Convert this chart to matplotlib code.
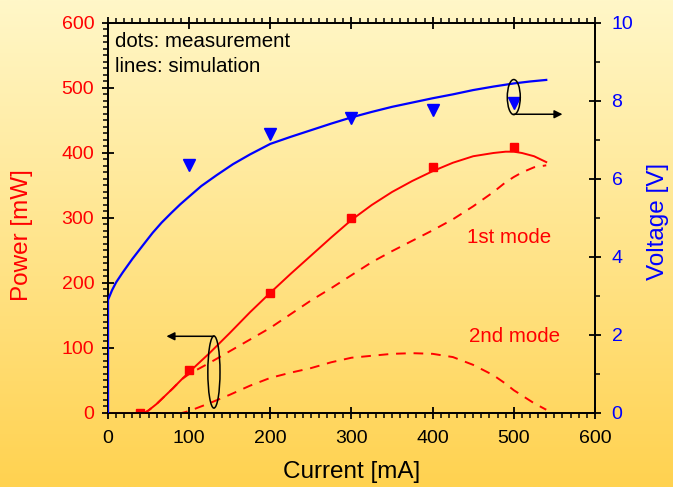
import numpy as np
import matplotlib.pyplot as plt
from matplotlib.patches import Ellipse

plt.rcParams['font.family'] = ['Liberation Sans', 'DejaVu Sans']

# measurement (dots)
meas_current = [40, 100, 200, 300, 400, 500]
meas_power = [0, 66, 185, 300, 378, 409]
meas_v_current = [100, 200, 300, 400, 500]
meas_voltage = [6.36, 7.15, 7.56, 7.77, 7.95]

# simulation (lines)
sim_current = [0, 45, 50, 60, 70, 80, 91, 100, 125, 150, 175, 200, 225, 250, 275, 300, 325, 350,
               375, 400, 425, 450, 475, 490, 500, 510, 525, 540]
sim_total = [0, 0, 4, 14, 26, 38, 52, 63, 92, 123, 155, 185, 214, 242, 270, 297, 320, 340,
             357, 372, 385, 395, 400, 402, 402, 400, 395, 386]
sim_mode1 = [0, 0, 4, 14, 26, 38, 52, 60, 77, 95, 113, 131, 152, 173, 192, 212, 232, 249,
             265, 281, 298, 318, 340, 355, 363, 370, 378, 381]
sim_mode2 = [0, 0, 0, 0, 0, 0, 0, 3, 15, 28, 42, 54, 62, 69, 78, 85, 88, 91,
             92, 91, 86, 74, 58, 45, 35, 27, 15, 5]

v_current = [0, 0, 5, 10, 18, 30, 43, 55, 66, 78, 89, 100, 115, 134, 154, 175, 200, 225, 250,
             275, 300, 325, 350, 375, 400, 425, 450, 475, 500, 520, 540]
v_sim = [0, 2.9, 3.15, 3.35, 3.6, 3.95, 4.3, 4.62, 4.88, 5.13, 5.35, 5.55, 5.82, 6.1, 6.38, 6.63,
         6.9, 7.08, 7.25, 7.42, 7.58, 7.72, 7.85, 7.96, 8.07, 8.17, 8.28, 8.37, 8.45, 8.5, 8.54]

red = '#ff0000'
blue = '#0000ff'

fig = plt.figure(figsize=(6.73, 4.87), dpi=100)

# yellow gradient background
bg = fig.add_axes([0, 0, 1, 1], zorder=-10)
grad = np.linspace(0, 1, 256)[:, None]
top_c = np.array([255, 247, 200]) / 255
bot_c = np.array([255, 210, 80]) / 255
img = top_c[None, None, :] * (1 - grad[:, :, None]) + bot_c[None, None, :] * grad[:, :, None]
bg.imshow(img, aspect='auto', extent=[0, 1, 0, 1])
bg.axis('off')

ax = fig.add_axes([0.1605, 0.152, 0.7235, 0.8008])
ax.patch.set_alpha(0)
ax2 = ax.twinx()
ax2.patch.set_alpha(0)

ax.plot(sim_current, sim_total, color=red, lw=1.4, zorder=3)
ax.plot(sim_current, sim_mode1, color=red, lw=1.4, ls=(0, (5, 4)), zorder=3)
ax.plot(sim_current, sim_mode2, color=red, lw=1.4, ls=(0, (5, 4)), zorder=3)
ax.plot(meas_current, meas_power, 's', color=red, ms=6, zorder=4)

ax2.plot(v_current, v_sim, color=blue, lw=1.6, zorder=3)
ax2.plot(meas_v_current, meas_voltage, 'v', color=blue, ms=8, zorder=4)

ax.set_xlim(0, 600)
ax.set_ylim(0, 600)
ax2.set_ylim(0, 10)

ax.set_xticks(range(0, 601, 100))
ax.set_xticks(range(0, 601, 10), minor=True)
ax.set_yticks(range(0, 601, 100))
ax.set_yticks(range(0, 601, 10), minor=True)
ax2.set_yticks(range(0, 11, 2))
ax2.set_yticks(range(0, 11, 1), minor=True)

ax.tick_params(which='major', direction='inout', length=8, width=1.3, labelsize=14, top=True, right=False)
ax.tick_params(which='minor', direction='out', length=3.5, width=1.1, top=True, right=False)
ax.tick_params(axis='y', labelcolor=red, pad=6)
ax.tick_params(axis='x', pad=8)
ax2.tick_params(which='major', direction='inout', length=8, width=1.3, labelsize=14, labelcolor=blue, pad=8)
ax2.tick_params(which='minor', direction='out', length=3.5, width=1.1)

for a in (ax, ax2):
    for s in a.spines.values():
        s.set_linewidth(1.3)

ax.set_xlabel('Current [mA]', fontsize=17.5)
ax.set_ylabel('Power [mW]', fontsize=17.5, color=red)
ax2.set_ylabel('Voltage [V]', fontsize=17.5, color=blue)
ax.xaxis.set_label_coords(0.5, -0.123, transform=ax.transAxes)
ax.yaxis.set_label_coords(-0.154, 0.456, transform=ax.transAxes)
ax2.yaxis.set_label_coords(1.107, 0.49, transform=ax2.transAxes)

ax.text(9, 563, 'dots: measurement', fontsize=14.8)
ax.text(9, 525, 'lines: simulation', fontsize=14.8)
ax.text(442, 270, '1st mode', fontsize=14.8, color=red, va='center')
ax.text(445, 117, '2nd mode', fontsize=14.8, color=red, va='center')

# annotation: power axis
ax.add_patch(Ellipse((130.5, 63), 15, 111, fill=False, color='k', lw=1.1, zorder=5))
ax.annotate('', xy=(72, 118), xytext=(130.5, 118),
            arrowprops=dict(arrowstyle='-|>', color='k', lw=1.1, mutation_scale=12, shrinkA=0, shrinkB=0))

# annotation: voltage axis
ax2.add_patch(Ellipse((500, 8.1), 16, 0.9, fill=False, color='k', lw=1.1, zorder=5))
ax2.annotate('', xy=(560, 7.66), xytext=(500, 7.66),
             arrowprops=dict(arrowstyle='-|>', color='k', lw=1.1, mutation_scale=12, shrinkA=0, shrinkB=0))

fig.savefig('out.png', dpi=100)
